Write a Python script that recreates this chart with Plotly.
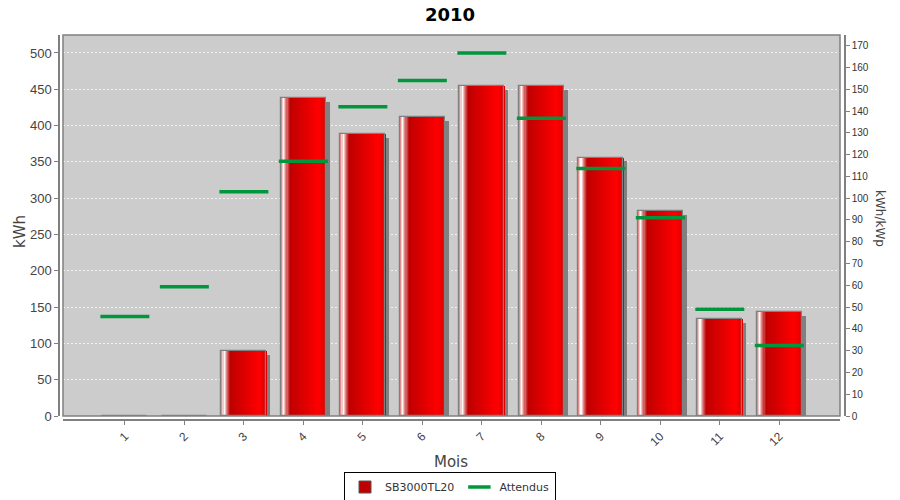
import plotly.graph_objects as go

# ---- data ----
months = [1, 2, 3, 4, 5, 6, 7, 8, 9, 10, 11, 12]
month_labels = ["1", "2", "3", "4", "5", "6", "7", "8", "9", "10", "11", "12"]
production_kwh = [0, 0, 89, 438, 388, 412, 455, 455, 356, 282, 133, 143]
expected_kwh = [137, 178, 309, 351, 426, 462, 500, 410, 341, 273, 147, 97]
series_name = "SB3000TL20"
expected_name = "Attendus"
title_text = "2010"
kwp = 3.0

# ---- style ----
BAR_W = 0.76
N_STRIPES = 40
SHADOW_DX = 0.067
SHADOW_DY = 5.5
LEFT_MAX = 524.7
# page body has an 8px margin: layout below is placed at (reference pixel - 8)
ML, MR, MT, MB = 51, 63, 27, 88
W_PAPER = 900.0 - ML - MR
H_PAPER = 500.0 - MT - MB


def px_x(x):
    return (x - 8 - ML) / W_PAPER


def px_y(y):
    return (500 - MB - (y - 8)) / H_PAPER


def lerp(c1, c2, t):
    return tuple(int(round(a + (b - a) * t)) for a, b in zip(c1, c2))


def grad(t):
    pink = (214, 110, 110)
    white = (255, 255, 255)
    dark = (190, 0, 0)
    bright = (255, 0, 0)
    edge = (218, 0, 0)
    if t < 0.06:
        c = lerp(pink, white, t / 0.06)
    elif t < 0.12:
        c = lerp(white, (220, 120, 120), (t - 0.06) / 0.06)
    elif t < 0.2:
        c = lerp((220, 120, 120), dark, (t - 0.12) / 0.08)
    elif t < 0.84:
        c = lerp(dark, bright, (t - 0.2) / 0.64)
    else:
        c = lerp(bright, edge, (t - 0.84) / 0.16)
    return "rgb(%d,%d,%d)" % c


fig = go.Figure()

# shadow
fig.add_trace(go.Bar(
    x=months, y=production_kwh, base=-SHADOW_DY,
    width=BAR_W, offset=-BAR_W / 2 + SHADOW_DX,
    marker=dict(color="#808080", line=dict(width=0)),
    showlegend=False, hoverinfo="skip",
))

# gradient stripes
for i in range(N_STRIPES):
    left = -BAR_W / 2 + i * BAR_W / N_STRIPES
    fig.add_trace(go.Bar(
        x=months, y=production_kwh,
        width=BAR_W - i * BAR_W / N_STRIPES, offset=left,
        marker=dict(color=grad((i + 0.5) / N_STRIPES), line=dict(width=0)),
        showlegend=False, hoverinfo="skip",
    ))

# outline
fig.add_trace(go.Bar(
    x=months, y=production_kwh, name=series_name,
    width=BAR_W, offset=-BAR_W / 2,
    marker=dict(color="rgba(0,0,0,0)", line=dict(color="#808080", width=1.2)),
    showlegend=False,
))
# legend entry for bars
fig.add_trace(go.Bar(
    x=[None], y=[None], name=series_name,
    marker=dict(color="#c00000", line=dict(color="#555555", width=1)),
))

# expected
fig.add_trace(go.Scatter(
    x=months, y=expected_kwh, name=expected_name, mode="markers",
    marker=dict(symbol="line-ew", size=35, color="#00963c",
                line=dict(color="#00963c", width=3.5)),
))

# secondary axis trace (kWh/kWp)
fig.add_trace(go.Scatter(
    x=months, y=[v / kwp for v in production_kwh], yaxis="y2",
    mode="markers", marker=dict(opacity=0), showlegend=False, hoverinfo="skip",
))

fig.update_layout(
    width=900, height=500,
    margin=dict(l=ML, r=MR, t=MT, b=MB, autoexpand=False),
    paper_bgcolor="white", plot_bgcolor="#cccccc",
    barmode="overlay", bargap=0,
    title=dict(text="<b>%s</b>" % title_text, x=(450 - 8) / 900.0, xanchor="center",
               y=1 - (14.8 - 8) / 500.0, yanchor="middle",
               font=dict(family="DejaVu Sans", size=18, color="black")),
    xaxis=dict(
        domain=[4 / W_PAPER, 781 / W_PAPER], range=[-0.04, 13.02],
        tickmode="array", tickvals=months, ticktext=month_labels,
        tickangle=-45, tickfont=dict(family="Liberation Sans", size=12, color="#444444"),
        showgrid=False, zeroline=False,
        showline=True, linecolor="#808080", linewidth=1.5,
        ticks="outside", ticklen=4, tickcolor="#808080",
        anchor="free", position=0,
    ),
    yaxis=dict(
        domain=[4 / H_PAPER, 1], range=[0, LEFT_MAX], dtick=50,
        tickfont=dict(family="Liberation Sans", size=13, color="#444444"),
        gridcolor="rgba(255,255,255,0.75)", griddash="2px,2px", gridwidth=1,
        zeroline=False, showline=True, linecolor="#808080", linewidth=1.5,
        ticks="outside", ticklen=4, tickcolor="#808080",
        anchor="free", position=0,
    ),
    yaxis2=dict(
        overlaying="y", side="right", range=[0, LEFT_MAX / kwp], dtick=10,
        tickfont=dict(family="Liberation Sans", size=10, color="#333333"),
        showgrid=False, zeroline=False,
        showline=True, linecolor="#808080", linewidth=1.5,
        ticks="outside", ticklen=4, tickcolor="#808080",
        anchor="free", position=1,
    ),
    legend=dict(orientation="h", x=px_x(450), xanchor="center", y=px_y(487), yanchor="middle",
                bordercolor="black", borderwidth=1, bgcolor="white",
                font=dict(family="DejaVu Sans", size=11, color="#333333"),
                itemwidth=30, tracegroupgap=0),
    shapes=[dict(type="rect", xref="x domain", yref="y domain", x0=0, x1=1, y0=0, y1=1,
                 line=dict(color="#808080", width=1.5), fillcolor="rgba(0,0,0,0)", layer="above")],
    annotations=[
        dict(text="kWh", textangle=-90, xref="paper", yref="paper",
             x=px_x(20), y=px_y(232), xanchor="center", yanchor="middle", showarrow=False,
             font=dict(family="DejaVu Sans", size=15, color="#444444")),
        dict(text="Mois", xref="paper", yref="paper",
             x=px_x(451), y=px_y(462), xanchor="center", yanchor="middle", showarrow=False,
             font=dict(family="DejaVu Sans", size=15, color="#444444")),
        dict(text="kWh/kWp", textangle=90, xref="paper", yref="paper",
             x=px_x(880), y=px_y(218), xanchor="center", yanchor="middle", showarrow=False,
             font=dict(family="DejaVu Sans", size=12, color="#444444")),
    ],
)

fig.write_html("out.html")
